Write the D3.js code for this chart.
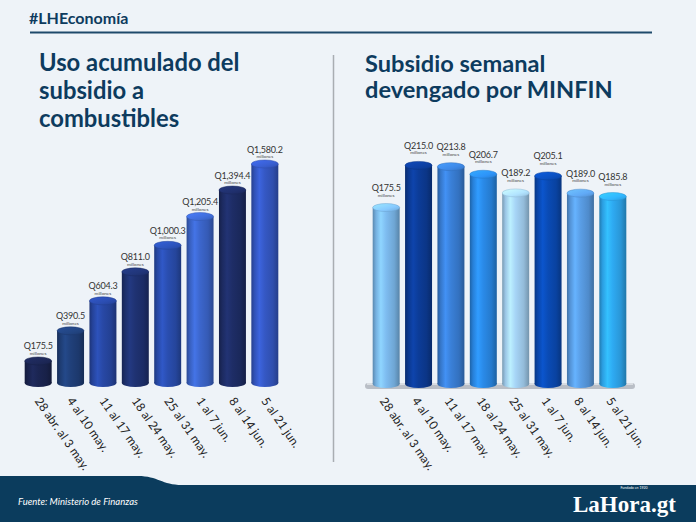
<!DOCTYPE html>
<html><head><meta charset="utf-8">
<script src="https://cdn.jsdelivr.net/npm/d3@7"></script>
<style>
html,body{margin:0;padding:0;background:#eef3f8;}
svg{display:block;font-family:Lato,"Open Sans",sans-serif;}
</style></head>
<body>
<svg id="c" width="696" height="522"></svg>
<script>
// ---- data ----
const categories = ["28 abr. al 3 may.","4 al 10 may.","11 al 17 may.","18 al 24 may.","25 al 31 may.","1 al 7 jun.","8 al 14 jun.","5 al 21 jun."];
const acumulado = [175.5, 390.5, 604.3, 811.0, 1000.3, 1205.4, 1394.4, 1580.2];
const acumuladoLabels = ["Q175.5","Q390.5","Q604.3","Q811.0","Q1,000.3","Q1,205.4","Q1,394.4","Q1,580.2"];
const semanal = [175.5, 215.0, 213.8, 206.7, 189.2, 205.1, 189.0, 185.8];
const semanalLabels = ["Q175.5","Q215.0","Q213.8","Q206.7","Q189.2","Q205.1","Q189.0","Q185.8"];
const leftColors = ["#1b2552","#20407a","#2848a5","#1f3272","#2a4eb0","#3c66cc","#1e2d66","#3558c4"];
const rightColors = ["#7ebcf0","#0c3c98","#3a80d8","#2a8ae8","#a6d4f6","#0a4bb5","#5a9ee6","#2eaaf2"];
const unitLabel = "millones";

const svg = d3.select("#c");
svg.append("rect").attr("width",696).attr("height",522).attr("fill","#eef3f8");
const defs = svg.append("defs");
const titleColor = "#0d3b5e";

// header
svg.append("text").attr("x",29).attr("y",24).attr("fill",titleColor)
  .attr("font-size",16).attr("font-weight",700).text("#LHEconomía");
svg.append("line").attr("x1",30).attr("x2",652).attr("y1",32.5).attr("y2",32.5)
  .attr("stroke","#1e4a6b").attr("stroke-width",2);

// divider
svg.append("line").attr("x1",333.5).attr("x2",333.5).attr("y1",55).attr("y2",462)
  .attr("stroke","#a9adb2").attr("stroke-width",1.5);

// titles
function title(x, lines, y0, lh, fs){
  const t = svg.append("text").attr("fill",titleColor).attr("font-size",fs).attr("font-weight",700);
  lines.forEach((l,i)=>t.append("tspan").attr("x",x).attr("y",y0+i*lh).text(l));
}
title(39, ["Uso acumulado del","subsidio a","combustibles"], 71, 28.2, 23.8);
title(365, ["Subsidio semanal","devengado por MINFIN"], 72, 25.5, 23.6);

let gid = 0;
function gradFor(color){
  const id = "g"+(gid++);
  const c = d3.color(color);
  const lg = defs.append("linearGradient").attr("id",id).attr("x1","0").attr("x2","1").attr("y1","0").attr("y2","0");
  [[0,c.darker(0.9)],[0.12,c.darker(0.2)],[0.3,c.brighter(0.35)],[0.5,c],[0.8,c.darker(0.35)],[1,c.darker(1.0)]]
    .forEach(([o,col])=>lg.append("stop").attr("offset",o).attr("stop-color",col.formatHex()));
  const id2 = "t"+(gid++);
  const rg = defs.append("linearGradient").attr("id",id2).attr("x1","0").attr("x2","1").attr("y1","0").attr("y2","1");
  [[0,c.brighter(0.6)],[0.6,c.brighter(0.2)],[1,c.darker(0.3)]]
    .forEach(([o,col])=>rg.append("stop").attr("offset",o).attr("stop-color",col.formatHex()));
  return [id,id2];
}

function drawChart(opt){
  const g = svg.append("g");
  const x = d3.scaleBand().domain(categories).range(opt.xr).paddingInner(0.167).paddingOuter(0.083);
  const y = d3.scaleLinear().domain([0, d3.max(opt.values)]).range(opt.yr);
  const w = x.bandwidth(), ry = 4;
  if (opt.platform){
    g.append("rect").attr("x",opt.platform[0]).attr("y",opt.baseY-1).attr("width",opt.platform[1]-opt.platform[0])
      .attr("height",6).attr("rx",3).attr("fill","#b9bec6");
    g.append("rect").attr("x",opt.platform[0]+2).attr("y",opt.baseY-1).attr("width",opt.platform[1]-opt.platform[0]-4)
      .attr("height",2).attr("fill","#d9dde2");
  }
  opt.values.forEach((v,i)=>{
    const [gb,gt] = gradFor(opt.colors[i]);
    const cx = x(categories[i]) + w/2;
    const yt = y(v);
    const bg = g.append("g");
    bg.append("ellipse").attr("cx",cx).attr("cy",opt.baseY).attr("rx",w/2).attr("ry",ry).attr("fill",`url(#${gb})`);
    bg.append("rect").attr("x",cx-w/2).attr("y",yt).attr("width",w).attr("height",opt.baseY-yt).attr("fill",`url(#${gb})`);
    bg.append("ellipse").attr("cx",cx).attr("cy",yt).attr("rx",w/2).attr("ry",ry).attr("fill",`url(#${gt})`)
      .attr("stroke",d3.color(opt.colors[i]).darker(0.4).formatHex()).attr("stroke-width",0.5);
    g.append("text").attr("x",cx).attr("y",yt-ry-opt.lblOff).attr("text-anchor","middle")
      .attr("font-size",9).attr("letter-spacing",-0.2).attr("fill","#333").text(opt.labels[i]);
    g.append("text").attr("x",cx).attr("y",yt-ry-opt.lblOff+5.5).attr("text-anchor","middle")
      .attr("font-size",4.6).attr("fill","#444").text(unitLabel);
  });
  const ax = g.append("g").attr("transform",`translate(0,${opt.axisY})`)
    .call(d3.axisBottom(x).tickSize(0).tickPadding(0));
  ax.select(".domain").remove();
  ax.selectAll("text").attr("y",0).attr("dy",null).attr("x",0)
    .attr("transform",`translate(${opt.lblDx},0) rotate(55)`).style("text-anchor","start")
    .attr("font-size",12).attr("fill","#222").attr("font-family","Lato");
}

drawChart({values:acumulado, labels:acumuladoLabels, colors:leftColors,
  xr:[22,281], yr:[385.6,164], baseY:383, lblOff:7.5, axisY:401, lblDx:-4});
drawChart({values:semanal, labels:semanalLabels, colors:rightColors,
  xr:[370,629], yr:[394.8,165.4], baseY:384, lblOff:12.5, axisY:401, lblDx:-7, platform:[365,635]});

// footer
svg.append("path").attr("d","M0,476 L138,476 C158,476 162,485 182,485 L696,485 L696,522 L0,522 Z").attr("fill","#0b3c5d");
svg.append("text").attr("x",18).attr("y",505).attr("fill","#fff").attr("font-size",9.5)
  .attr("font-style","italic").text("Fuente: Ministerio de Finanzas");
svg.append("text").attr("x",573).attr("y",512).attr("fill","#fff").attr("font-size",23)
  .attr("font-weight",700).attr("font-family","'Liberation Serif','DejaVu Serif',serif").text("LaHora.gt");
svg.append("text").attr("x",634).attr("y",489).attr("fill","#fff").attr("font-size",3.5)
  .attr("text-anchor","middle").text("Fundado en 1920");
</script>
</body></html>
